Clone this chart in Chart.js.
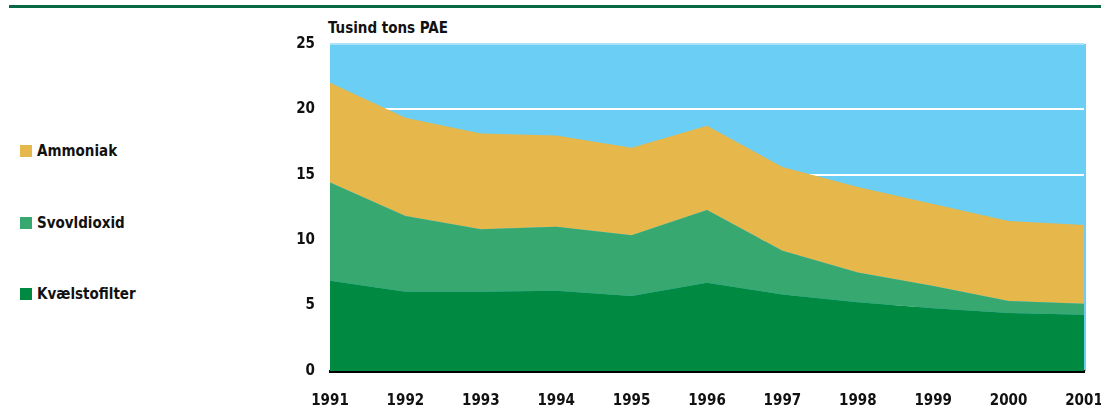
<!DOCTYPE html>
<html>
<head>
<meta charset="utf-8">
<script src="https://cdn.jsdelivr.net/npm/chart.js@4/dist/chart.umd.min.js"></script>
<style>
  html, body { margin: 0; padding: 0; background: #fff; }
  #wrap { position: relative; width: 1101px; height: 416px; overflow: hidden;
          font-family: 'DejaVu Sans Condensed', 'DejaVu Sans', sans-serif; font-weight: bold; color: #111; }
  #rule { position: absolute; left: 9px; top: 5px; width: 1092px; height: 3px; background: #066b45; }
  #title { position: absolute; left: 328px; top: 19px; font-size: 15px; line-height: 18px; }
  .leg { position: absolute; left: 20px; font-size: 15px; line-height: 18px; white-space: nowrap; }
  .leg span.box { display: inline-block; width: 12px; height: 12px; margin-right: 5px; vertical-align: -1px; }
  canvas { position: absolute; left: 0; top: 0; }
</style>
</head>
<body>
<div id="wrap">
  <div id="rule"></div>
  <div id="title">Tusind tons PAE</div>
  <div id="legend"></div>
  <canvas id="c" width="1101" height="416"></canvas>
</div>
<script>
const years = ['1991','1992','1993','1994','1995','1996','1997','1998','1999','2000','2001'];
const kvaelstof = [6.9, 6.06, 6.06, 6.14, 5.73, 6.75, 5.84, 5.25, 4.79, 4.43, 4.3];
const svovldioxid = [7.52, 5.79, 4.77, 4.89, 4.64, 5.55, 3.36, 2.29, 1.71, 0.92, 0.85];
const ammoniak = [7.62, 7.52, 7.32, 6.97, 6.7, 6.45, 6.4, 6.53, 6.27, 6.12, 6.01];
const yTicks = [0, 5, 10, 15, 20, 25];

const colors = { kv: '#008a41', sv: '#37a970', am: '#e6b74a', bg: '#6bcef5' };
const FONT = "'DejaVu Sans Condensed', 'DejaVu Sans', sans-serif";

// HTML legend (reverse order, as in the reference)
const legendItems = [
  { label: 'Ammoniak', color: colors.am, y: 142 },
  { label: 'Svovldioxid', color: colors.sv, y: 214 },
  { label: 'Kvælstofilter', color: colors.kv, y: 285 }
];
const legEl = document.getElementById('legend');
legendItems.forEach(it => {
  const d = document.createElement('div');
  d.className = 'leg';
  d.style.top = it.y + 'px';
  d.innerHTML = '<span class="box" style="background:' + it.color + '"></span>' + it.label;
  legEl.appendChild(d);
});

const bgPlugin = {
  id: 'plotBg',
  beforeDraw(chart) {
    const { ctx, chartArea: a } = chart;
    ctx.save();
    ctx.fillStyle = colors.bg;
    ctx.fillRect(a.left, a.top, a.right - a.left + 2, a.bottom - a.top);
    ctx.restore();
  }
};

const ds = (label, data, color, fill) => ({
  label, data, backgroundColor: color, borderColor: color, borderWidth: 0,
  fill, pointRadius: 0, tension: 0
});

new Chart(document.getElementById('c'), {
  type: 'line',
  data: {
    labels: years,
    datasets: [
      ds('Kvælstofilter', kvaelstof, colors.kv, 'origin'),
      ds('Svovldioxid', svovldioxid, colors.sv, '-1'),
      ds('Ammoniak', ammoniak, colors.am, '-1')
    ]
  },
  options: {
    responsive: false,
    animation: false,
    layout: { padding: { top: 44, left: 0, right: 0, bottom: 0 } },
    plugins: { legend: { display: false }, tooltip: { enabled: false } },
    scales: {
      x: {
        offset: false,
        z: 1,
        grid: { display: false, drawTicks: false },
        border: { display: true, color: '#000', width: 3 },
        ticks: { color: '#111', font: { family: FONT, size: 15, weight: 'bold' }, padding: 21, maxRotation: 0, autoSkip: false },
        afterFit(s) { s.height = 45; s.paddingLeft = 0; s.paddingRight = 17; }
      },
      y: {
        stacked: true,
        min: 0, max: 25,
        afterBuildTicks(s) { s.ticks = yTicks.map(v => ({ value: v })); },
        grid: {
          drawTicks: false,
          lineWidth: 2,
          color: ctx => (ctx.tick && ctx.tick.value === 25) ? '#a9e2f9' : '#ffffff'
        },
        border: { display: false },
        ticks: { color: '#111', font: { family: FONT, size: 15, weight: 'bold' }, padding: 15 },
        afterFit(s) { s.width = 330; }
      }
    }
  },
  plugins: [bgPlugin]
});
</script>
</body>
</html>
